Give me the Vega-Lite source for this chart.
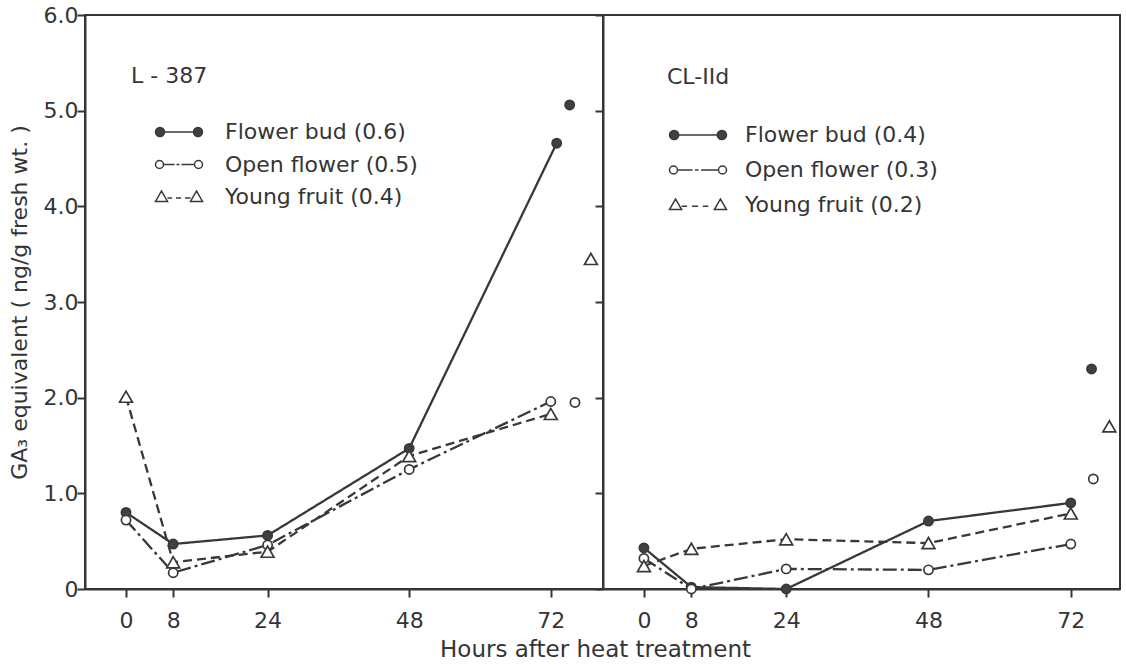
{
  "$schema": "https://vega.github.io/schema/vega-lite/v6.json",
  "background": "white",
  "padding": {"left": 7, "top": 3, "right": 0, "bottom": 0},
  "bounds": "flush",
  "spacing": 0,
  "data": {
    "values": [
      {"panel": "L-387", "series": "Flower bud (0.6)", "kind": "curve", "hour": 0, "ga": 0.80},
      {"panel": "L-387", "series": "Flower bud (0.6)", "kind": "curve", "hour": 8, "ga": 0.47},
      {"panel": "L-387", "series": "Flower bud (0.6)", "kind": "curve", "hour": 24, "ga": 0.56},
      {"panel": "L-387", "series": "Flower bud (0.6)", "kind": "curve", "hour": 48, "ga": 1.47},
      {"panel": "L-387", "series": "Flower bud (0.6)", "kind": "curve", "hour": 73, "ga": 4.66},
      {"panel": "L-387", "series": "Flower bud (0.6)", "kind": "single", "hour": 75.2, "ga": 5.06},
      {"panel": "L-387", "series": "Open flower (0.5)", "kind": "curve", "hour": 0, "ga": 0.72},
      {"panel": "L-387", "series": "Open flower (0.5)", "kind": "curve", "hour": 8, "ga": 0.17},
      {"panel": "L-387", "series": "Open flower (0.5)", "kind": "curve", "hour": 24, "ga": 0.46},
      {"panel": "L-387", "series": "Open flower (0.5)", "kind": "curve", "hour": 48, "ga": 1.25},
      {"panel": "L-387", "series": "Open flower (0.5)", "kind": "curve", "hour": 72, "ga": 1.96},
      {"panel": "L-387", "series": "Open flower (0.5)", "kind": "single", "hour": 76.1, "ga": 1.95},
      {"panel": "L-387", "series": "Young fruit (0.4)", "kind": "curve", "hour": 0, "ga": 2.01},
      {"panel": "L-387", "series": "Young fruit (0.4)", "kind": "curve", "hour": 8, "ga": 0.28},
      {"panel": "L-387", "series": "Young fruit (0.4)", "kind": "curve", "hour": 24, "ga": 0.39},
      {"panel": "L-387", "series": "Young fruit (0.4)", "kind": "curve", "hour": 48, "ga": 1.39},
      {"panel": "L-387", "series": "Young fruit (0.4)", "kind": "curve", "hour": 72, "ga": 1.83},
      {"panel": "L-387", "series": "Young fruit (0.4)", "kind": "single", "hour": 78.8, "ga": 3.45},
      {"panel": "CL-IId", "series": "Flower bud (0.4)", "kind": "curve", "hour": 0, "ga": 0.43},
      {"panel": "CL-IId", "series": "Flower bud (0.4)", "kind": "curve", "hour": 8, "ga": 0.02},
      {"panel": "CL-IId", "series": "Flower bud (0.4)", "kind": "curve", "hour": 24, "ga": 0.0},
      {"panel": "CL-IId", "series": "Flower bud (0.4)", "kind": "curve", "hour": 48, "ga": 0.71},
      {"panel": "CL-IId", "series": "Flower bud (0.4)", "kind": "curve", "hour": 72, "ga": 0.90},
      {"panel": "CL-IId", "series": "Flower bud (0.4)", "kind": "single", "hour": 75.5, "ga": 2.30},
      {"panel": "CL-IId", "series": "Open flower (0.3)", "kind": "curve", "hour": 0, "ga": 0.32},
      {"panel": "CL-IId", "series": "Open flower (0.3)", "kind": "curve", "hour": 8, "ga": 0.0},
      {"panel": "CL-IId", "series": "Open flower (0.3)", "kind": "curve", "hour": 24, "ga": 0.21},
      {"panel": "CL-IId", "series": "Open flower (0.3)", "kind": "curve", "hour": 48, "ga": 0.20},
      {"panel": "CL-IId", "series": "Open flower (0.3)", "kind": "curve", "hour": 72, "ga": 0.47},
      {"panel": "CL-IId", "series": "Open flower (0.3)", "kind": "single", "hour": 75.8, "ga": 1.15},
      {"panel": "CL-IId", "series": "Young fruit (0.2)", "kind": "curve", "hour": 0, "ga": 0.24},
      {"panel": "CL-IId", "series": "Young fruit (0.2)", "kind": "curve", "hour": 8, "ga": 0.42},
      {"panel": "CL-IId", "series": "Young fruit (0.2)", "kind": "curve", "hour": 24, "ga": 0.52},
      {"panel": "CL-IId", "series": "Young fruit (0.2)", "kind": "curve", "hour": 48, "ga": 0.48},
      {"panel": "CL-IId", "series": "Young fruit (0.2)", "kind": "curve", "hour": 72, "ga": 0.79},
      {"panel": "CL-IId", "series": "Young fruit (0.2)", "kind": "single", "hour": 78.5, "ga": 1.70}
    ]
  },
  "config": {
    "font": "DejaVu Sans",
    "view": {"stroke": "#353535", "strokeWidth": 2},
    "axis": {
      "domainColor": "#353535", "domainWidth": 2,
      "tickColor": "#353535", "tickWidth": 2, "tickSize": 8,
      "labelColor": "#353535", "labelFontSize": 22, "labelFont": "DejaVu Sans",
      "titleColor": "#353535", "titleFontSize": 22, "titleFontWeight": "normal", "titleFont": "DejaVu Sans",
      "grid": false, "labelFlush": false, "labelOverlap": false
    },
    "axisX": {"labelPadding": 13, "titlePadding": 7},
    "axisY": {"labelPadding": -1, "titlePadding": 12},
    "legend": {
      "orient": "none", "padding": 0, "labelLimit": 400,
      "labelFont": "DejaVu Sans", "labelFontSize": 22, "labelColor": "#353535",
      "titleFont": "DejaVu Sans", "titleFontSize": 22, "titleFontWeight": "normal", "titleColor": "#353535"
    }
  },
  "resolve": {
    "scale": {"x": "independent", "y": "shared", "shape": "independent", "fill": "independent"},
    "legend": {"shape": "independent", "fill": "independent"}
  },
  "hconcat": [
    {
      "width": 518,
      "height": 574,
      "transform": [{"filter": "datum.panel === 'L-387'"}],
      "encoding": {
        "x": {
          "field": "hour", "type": "quantitative",
          "scale": {"domain": [-6.95, 80.85], "nice": false, "zero": false},
          "axis": {
            "values": [0, 8, 24, 48, 72],
            "title": "Hours  after  heat  treatment", "titleFontSize": 23, "titleX": 510, "titleAnchor": "middle",
            "encode": {"ticks": {"update": {"y2": {"value": -8}}}}
          }
        },
        "y": {
          "field": "ga", "type": "quantitative",
          "scale": {"domain": [0, 6], "nice": false},
          "axis": {
            "values": [0, 1, 2, 3, 4, 5, 6],
            "title": "GA₃ equivalent ( ng/g fresh wt. )",
            "labelExpr": "datum.value === 0 ? '0' : format(datum.value, '.1f')",
            "encode": {"ticks": {"update": {"x2": {"value": 8}}}}
          }
        }
      },
      "layer": [
        {
          "transform": [{"filter": "datum.kind === 'curve'"}],
          "mark": {"type": "line", "strokeWidth": 2.3, "color": "#383838"},
          "encoding": {
            "detail": {"field": "series"},
            "strokeDash": {
              "condition": [
                {"test": "indexof(datum.series,'Open')===0", "value": [14, 4, 3, 4]},
                {"test": "indexof(datum.series,'Young')===0", "value": [9, 5]}
              ],
              "value": [1, 0]
            }
          }
        },
        {
          "mark": {"type": "point", "filled": true, "stroke": "#383838", "strokeWidth": 1.7, "opacity": 1},
          "encoding": {
            "shape": {"condition": {"test": "indexof(datum.series,'Young')===0", "value": "triangle-up"}, "value": "circle"},
            "fill": {"condition": {"test": "indexof(datum.series,'Flower')===0", "value": "#404040"}, "value": "white"},
            "size": {"condition": {"test": "indexof(datum.series,'Young')===0", "value": 165}, "value": 85}
          }
        },
        {
          "transform": [{"filter": "false"}],
          "mark": {"type": "point", "filled": true, "stroke": "#383838", "strokeWidth": 1.9, "opacity": 1},
          "encoding": {
            "shape": {
              "field": "series", "type": "nominal",
              "scale": {
                "domain": ["Flower bud (0.6)", "Open flower (0.5)", "Young fruit (0.4)"],
                "range": [
                  "M-2.35 0A0.45 0.45 0 1 1 -1.45 0A0.45 0.45 0 1 1 -2.35 0ZM-1.45 0H1.45M1.45 0A0.45 0.45 0 1 1 2.35 0A0.45 0.45 0 1 1 1.45 0Z",
                  "M-2.35 0A0.4 0.4 0 1 1 -1.55 0A0.4 0.4 0 1 1 -2.35 0ZM-1.55 0H-0.45M-0.25 0H0.05M0.25 0H1.55M1.55 0A0.4 0.4 0 1 1 2.35 0A0.4 0.4 0 1 1 1.55 0Z",
                  "M-2.35 0.45L-1.15 0.45L-1.75 -0.6ZM-1.15 0.1H-0.7M-0.3 0.1H0.2M0.6 0.1H1.15M1.15 0.45L2.35 0.45L1.75 -0.6Z"
                ]
              },
              "legend": {
                "title": "L - 387", "legendX": 46, "legendY": 51, "titlePadding": 33,
                "symbolSize": 400, "symbolOffset": 37, "labelOffset": 35, "rowPadding": 10.5
              }
            },
            "fill": {
              "field": "series", "type": "nominal",
              "scale": {"domain": ["Flower bud (0.6)", "Open flower (0.5)", "Young fruit (0.4)"], "range": ["#404040", "white", "white"]},
              "legend": {
                "title": "L - 387", "legendX": 46, "legendY": 51, "titlePadding": 33,
                "symbolSize": 400, "symbolOffset": 37, "labelOffset": 35, "rowPadding": 10.5
              }
            }
          }
        }
      ]
    },
    {
      "width": 517,
      "height": 574,
      "transform": [{"filter": "datum.panel === 'CL-IId'"}],
      "encoding": {
        "x": {
          "field": "hour", "type": "quantitative",
          "scale": {"domain": [-6.9, 80.3], "nice": false, "zero": false},
          "axis": {
            "values": [0, 8, 24, 48, 72], "title": null,
            "encode": {"ticks": {"update": {"y2": {"value": -8}}}}
          }
        },
        "y": {
          "field": "ga", "type": "quantitative",
          "scale": {"domain": [0, 6], "nice": false},
          "axis": {
            "values": [0, 1, 2, 3, 4, 5, 6], "title": null, "labels": false,
            "encode": {"ticks": {"update": {"x2": {"value": 8}}}}
          }
        }
      },
      "layer": [
        {
          "transform": [{"filter": "datum.kind === 'curve'"}],
          "mark": {"type": "line", "strokeWidth": 2.3, "color": "#383838"},
          "encoding": {
            "detail": {"field": "series"},
            "strokeDash": {
              "condition": [
                {"test": "indexof(datum.series,'Open')===0", "value": [14, 4, 3, 4]},
                {"test": "indexof(datum.series,'Young')===0", "value": [9, 5]}
              ],
              "value": [1, 0]
            }
          }
        },
        {
          "mark": {"type": "point", "filled": true, "stroke": "#383838", "strokeWidth": 1.7, "opacity": 1},
          "encoding": {
            "shape": {"condition": {"test": "indexof(datum.series,'Young')===0", "value": "triangle-up"}, "value": "circle"},
            "fill": {"condition": {"test": "indexof(datum.series,'Flower')===0", "value": "#404040"}, "value": "white"},
            "size": {"condition": {"test": "indexof(datum.series,'Young')===0", "value": 165}, "value": 85}
          }
        },
        {
          "transform": [{"filter": "false"}],
          "mark": {"type": "point", "filled": true, "stroke": "#383838", "strokeWidth": 1.9, "opacity": 1},
          "encoding": {
            "shape": {
              "field": "series", "type": "nominal",
              "scale": {
                "domain": ["Flower bud (0.4)", "Open flower (0.3)", "Young fruit (0.2)"],
                "range": [
                  "M-2.35 0A0.38 0.38 0 1 1 -1.59 0A0.38 0.38 0 1 1 -2.35 0ZM-1.59 0H1.59M1.59 0A0.38 0.38 0 1 1 2.35 0A0.38 0.38 0 1 1 1.59 0Z",
                  "M-2.35 0A0.33 0.33 0 1 1 -1.69 0A0.33 0.33 0 1 1 -2.35 0ZM-1.69 0H-0.45M-0.25 0H0.05M0.25 0H1.69M1.69 0A0.33 0.33 0 1 1 2.35 0A0.33 0.33 0 1 1 1.69 0Z",
                  "M-2.35 0.38L-1.35 0.38L-1.85 -0.5ZM-1.35 0.1H-0.9M-0.5 0.1H0.0M0.4 0.1H0.85M1.35 0.38L2.35 0.38L1.85 -0.5Z"
                ]
              },
              "legend": {
                "title": "CL-IId", "legendX": 64, "legendY": 52, "titlePadding": 33,
                "symbolSize": 588, "symbolOffset": 18, "labelOffset": 34, "rowPadding": 11
              }
            },
            "fill": {
              "field": "series", "type": "nominal",
              "scale": {"domain": ["Flower bud (0.4)", "Open flower (0.3)", "Young fruit (0.2)"], "range": ["#404040", "white", "white"]},
              "legend": {
                "title": "CL-IId", "legendX": 64, "legendY": 52, "titlePadding": 33,
                "symbolSize": 588, "symbolOffset": 18, "labelOffset": 34, "rowPadding": 11
              }
            }
          }
        }
      ]
    }
  ]
}
